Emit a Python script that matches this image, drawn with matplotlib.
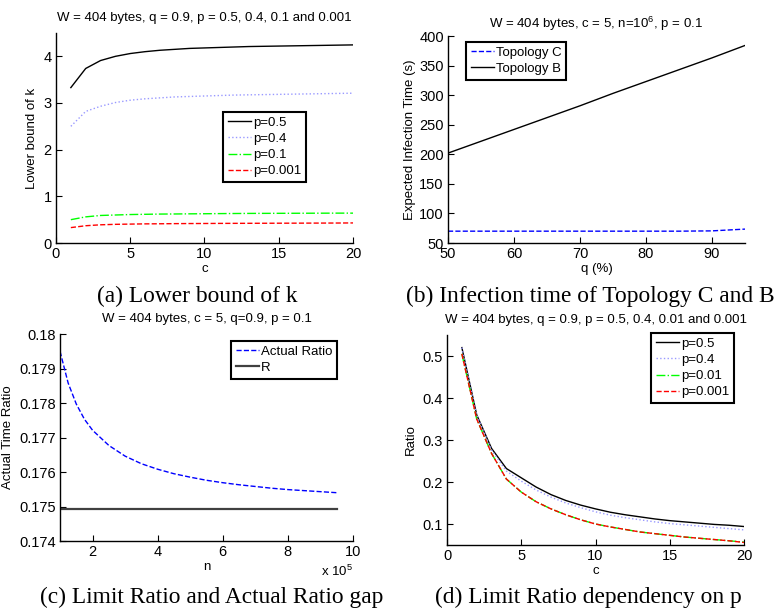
import matplotlib
matplotlib.use('Agg')
import matplotlib.pyplot as plt
from matplotlib.ticker import FuncFormatter

plt.rcParams['font.family'] = ['Liberation Sans', 'DejaVu Sans']
plt.rcParams['mathtext.default'] = 'regular'

# (a) lower bound of k vs c
c_vals = list(range(1, 21))
k_p05 = [3.33, 3.74, 3.91, 4.00, 4.06, 4.10, 4.13, 4.15, 4.17, 4.18,
         4.19, 4.20, 4.21, 4.215, 4.22, 4.225, 4.23, 4.235, 4.24, 4.245]
k_p04 = [2.50, 2.82, 2.93, 3.01, 3.06, 3.09, 3.11, 3.13, 3.14, 3.15,
         3.16, 3.17, 3.175, 3.18, 3.185, 3.19, 3.195, 3.20, 3.205, 3.21]
k_p01 = [0.50, 0.56, 0.59, 0.60, 0.61, 0.615, 0.62, 0.622, 0.625, 0.627,
         0.63, 0.632, 0.634, 0.635, 0.636, 0.637, 0.638, 0.639, 0.64, 0.64]
k_p0001 = [0.33, 0.37, 0.39, 0.40, 0.405, 0.41, 0.412, 0.415, 0.417, 0.418,
           0.42, 0.421, 0.422, 0.423, 0.424, 0.425, 0.426, 0.427, 0.428, 0.43]

# (b) expected infection time vs q
q_vals = [50, 55, 60, 65, 70, 75, 80, 85, 90, 95]
time_topo_c = [70, 70, 70, 70, 70, 70, 70, 70, 70.5, 73.5]
time_topo_b = [202, 222, 242, 262, 282, 303, 323, 343, 363, 384]

# (c) actual ratio vs n
n_vals = [1.0e5, 1.25e5, 1.5e5, 1.75e5, 2.0e5, 2.5e5, 3.0e5, 3.5e5, 4.0e5, 4.5e5,
          5.0e5, 5.5e5, 6.0e5, 6.5e5, 7.0e5, 7.5e5, 8.0e5, 8.5e5, 9.0e5, 9.5e5]
actual_ratio = [0.17950, 0.17858, 0.17797, 0.17753, 0.17721, 0.17677, 0.17646,
                0.17624, 0.17608, 0.17595, 0.17585, 0.17576, 0.17569, 0.17563,
                0.17558, 0.17553, 0.17549, 0.17546, 0.17543, 0.17540]
r_limit = [0.17492] * len(n_vals)

# (d) limit ratio vs c
ratio_p05 = [0.52, 0.36, 0.28, 0.232, 0.21, 0.188, 0.17, 0.156, 0.145, 0.136,
             0.128, 0.122, 0.117, 0.112, 0.108, 0.105, 0.102, 0.099, 0.097, 0.094]
ratio_p04 = [0.52, 0.36, 0.276, 0.226, 0.202, 0.181, 0.164, 0.15, 0.139, 0.129,
             0.121, 0.115, 0.11, 0.105, 0.101, 0.098, 0.095, 0.092, 0.089, 0.086]
ratio_p001 = [0.505, 0.35, 0.268, 0.207, 0.176, 0.153, 0.136, 0.122, 0.11, 0.1,
              0.093, 0.087, 0.081, 0.077, 0.073, 0.069, 0.066, 0.063, 0.06, 0.057]
ratio_p0001 = [0.505, 0.35, 0.268, 0.207, 0.176, 0.153, 0.136, 0.122, 0.11, 0.1,
               0.093, 0.087, 0.081, 0.077, 0.073, 0.069, 0.066, 0.063, 0.06, 0.056]

W, H = 779, 609
fig = plt.figure(figsize=(W / 100, H / 100), dpi=100)


def px_axes(left, top, right, bottom):
    return fig.add_axes([left / W, 1 - bottom / H, (right - left) / W, (bottom - top) / H])


def style(ax):
    for s in ['top', 'right']:
        ax.spines[s].set_visible(False)
    for s in ['left', 'bottom']:
        ax.spines[s].set_linewidth(1.0)
    ax.tick_params(direction='in', length=4, width=0.8, labelsize=10.5, pad=3)


def legend(ax, x, y, **kw):
    leg = ax.legend(loc='upper left', bbox_to_anchor=(x / W, 1 - y / H),
                    bbox_transform=fig.transFigure, borderaxespad=0,
                    fancybox=False, framealpha=1, edgecolor='black',
                    fontsize=9.5, handlelength=1.8, handletextpad=0.1,
                    labelspacing=0.3, borderpad=0.35, **kw)
    leg.get_frame().set_linewidth(1.5)
    return leg


cap_font = dict(family='Liberation Serif', fontsize=16.8, ha='center', va='baseline')
title_size = 9.5

# ---- (a)
ax1 = px_axes(56, 33, 353, 243)
ax1.plot(c_vals, k_p05, '-', color='black', lw=1, label='p=0.5')
ax1.plot(c_vals, k_p04, ':', color=(0.6, 0.6, 1.0), lw=1, label='p=0.4')
ax1.plot(c_vals, k_p01, '-.', color=(0, 1, 0), lw=1, label='p=0.1')
ax1.plot(c_vals, k_p0001, '--', color=(1, 0, 0), lw=1, label='p=0.001')
ax1.set_xlim(0, 20)
ax1.set_ylim(0, 4.5)
ax1.set_xticks([0, 5, 10, 15, 20])
ax1.set_yticks([0, 1, 2, 3, 4])
style(ax1)
ax1.set_title('W = 404 bytes, q = 0.9, p = 0.5, 0.4, 0.1 and 0.001', fontsize=title_size, pad=9)
ax1.set_xlabel('c', fontsize=9.5, labelpad=1)
ax1.set_ylabel('Lower bound of k', fontsize=9.5, labelpad=4)
legend(ax1, 223, 112)
fig.text(197 / W, 1 - 302 / H, '(a) Lower bound of k', **cap_font)

# ---- (b)
ax2 = px_axes(448, 36, 745, 243)
ax2.plot(q_vals, time_topo_c, '--', color=(0, 0, 1), lw=1, label='Topology C')
ax2.plot(q_vals, time_topo_b, '-', color='black', lw=1, label='Topology B')
ax2.set_xlim(50, 95)
ax2.set_ylim(50, 400)
ax2.set_xticks([50, 60, 70, 80, 90])
ax2.set_yticks(list(range(50, 401, 50)))
style(ax2)
ax2.set_title('W = 404 bytes, c = 5, n=10$^6$, p = 0.1', fontsize=title_size, pad=6)
ax2.set_xlabel('q (%)', fontsize=9.5, labelpad=1)
ax2.set_ylabel('Expected Infection Time (s)', fontsize=9.5, labelpad=2)
legend(ax2, 466, 42)
fig.text(590 / W, 1 - 302 / H, '(b) Infection time of Topology C and B', **cap_font)

# ---- (c)
ax3 = px_axes(60, 334, 353, 541)
ax3.plot(n_vals, actual_ratio, '--', color=(0, 0, 1), lw=1, label='Actual Ratio')
ax3.plot(n_vals, r_limit, '-', color='#404040', lw=1.6, label='R')
ax3.set_xlim(1e5, 1e6)
ax3.set_ylim(0.174, 0.18)
ax3.set_xticks([2e5, 4e5, 6e5, 8e5, 1e6])
ax3.xaxis.set_major_formatter(FuncFormatter(lambda v, p: '{:g}'.format(v / 1e5)))
ax3.set_yticks([0.174, 0.175, 0.176, 0.177, 0.178, 0.179, 0.18])
ax3.yaxis.set_major_formatter(FuncFormatter(lambda v, p: '{:g}'.format(round(v, 3))))
style(ax3)
ax3.set_title('W = 404 bytes, c = 5, q=0.9, p = 0.1', fontsize=title_size, pad=9)
ax3.set_xlabel('n', fontsize=9.5, labelpad=1)
ax3.set_ylabel('Actual Time Ratio', fontsize=9.5, labelpad=4)
legend(ax3, 231, 341)
fig.text(353 / W, 1 - 576 / H, 'x 10$^5$', fontsize=9.5, ha='right', va='baseline')
fig.text(212 / W, 1 - 603 / H, '(c) Limit Ratio and Actual Ratio gap', **cap_font)

# ---- (d)
ax4 = px_axes(447, 335, 744, 545)
ax4.plot(c_vals, ratio_p05, '-', color='black', lw=1, label='p=0.5')
ax4.plot(c_vals, ratio_p04, ':', color=(0.6, 0.6, 1.0), lw=1, label='p=0.4')
ax4.plot(c_vals, ratio_p001, '-.', color=(0, 1, 0), lw=1, label='p=0.01')
ax4.plot(c_vals, ratio_p0001, '--', color=(1, 0, 0), lw=1, label='p=0.001')
ax4.set_xlim(0, 20)
ax4.set_ylim(0.05, 0.55)
ax4.set_xticks([0, 5, 10, 15, 20])
ax4.set_yticks([0.1, 0.2, 0.3, 0.4, 0.5])
style(ax4)
ax4.set_title('W = 404 bytes, q = 0.9, p = 0.5, 0.4, 0.01 and 0.001', fontsize=title_size, pad=9)
ax4.set_xlabel('c', fontsize=9.5, labelpad=1)
ax4.set_ylabel('Ratio', fontsize=9.5, labelpad=4)
legend(ax4, 651, 333)
fig.text(588 / W, 1 - 603 / H, '(d) Limit Ratio dependency on p', **cap_font)

fig.savefig('out.png', dpi=100)
